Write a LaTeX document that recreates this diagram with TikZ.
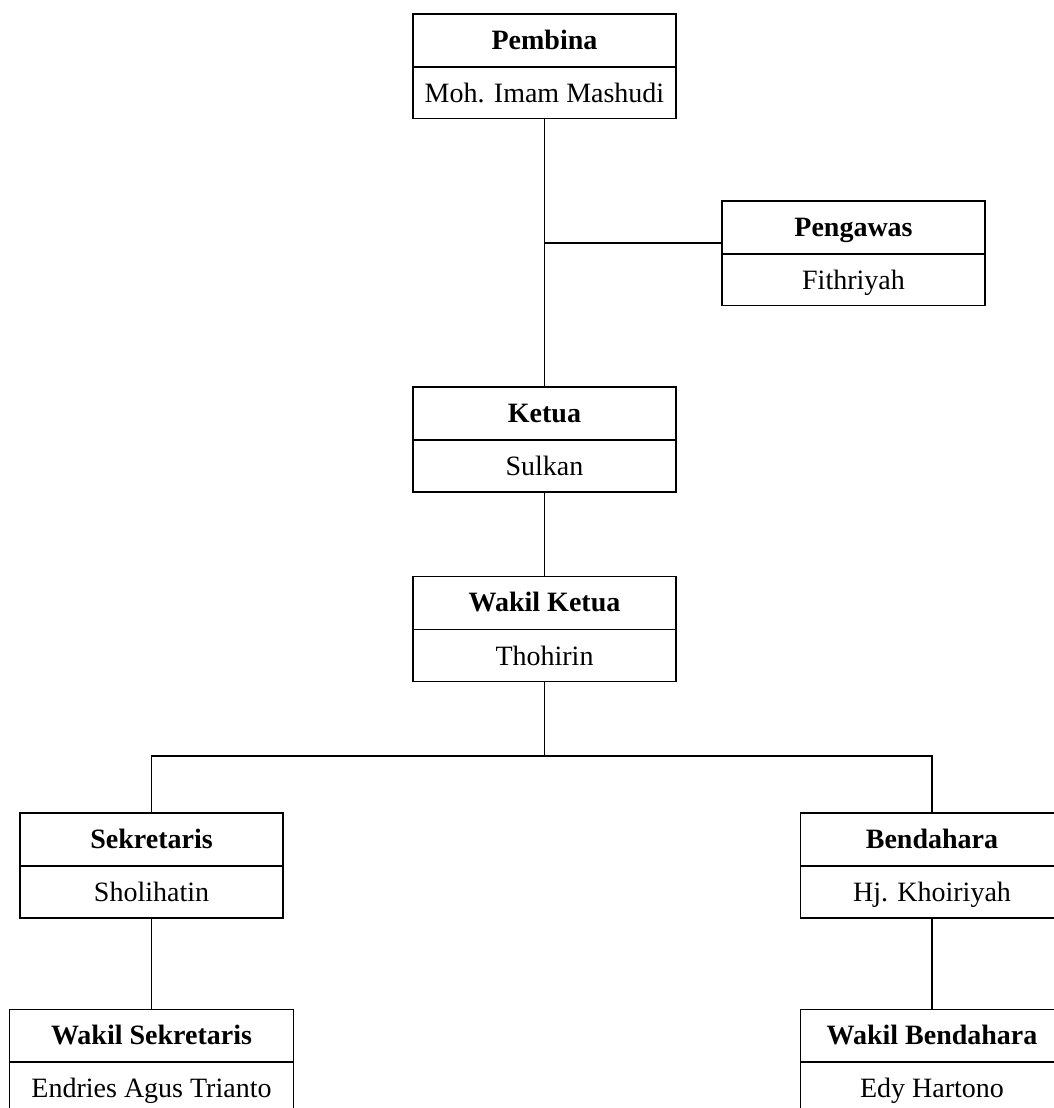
\documentclass[tikz,border=0pt]{standalone}
\usepackage{fontspec}
\setmainfont{Liberation Serif}
\tikzset{
  titlebox/.style={draw, line width=1.5pt, minimum width=263pt, minimum height=53pt, inner sep=0pt, text height=21pt, text depth=4pt, font=\fontsize{28}{34}\selectfont\bfseries},
  namebox/.style={draw, line width=1.2pt, minimum width=263pt, minimum height=52pt, inner sep=0pt, text height=22pt, text depth=3pt, font=\fontsize{28}{34}\selectfont},
  link/.style={line width=1.3pt}
}
\begin{document}
\begin{tikzpicture}[x=1pt, y=-1pt]
\clip (0,0) rectangle (1054,1108);

\node[namebox] (pembina-n) at (544.5,92.5) {Moh. Imam Mashudi};
\node[titlebox] (pembina) at (544.5,40.5) {Pembina};

\node[namebox] (pengawas-n) at (853.5,279.5) {Fithriyah};
\node[titlebox] (pengawas) at (853.5,227.5) {Pengawas};

\node[namebox] (ketua-n) at (544.5,466) {Sulkan};
\node[titlebox] (ketua) at (544.5,413.5) {Ketua};

\node[namebox] (wketua-n) at (544.5,655.5) {Thohirin};
\node[titlebox] (wketua) at (544.5,603) {Wakil Ketua};

\node[namebox] (sekretaris-n) at (151.5,892) {Sholihatin};
\node[titlebox] (sekretaris) at (151.5,839.5) {Sekretaris};

\node[namebox] (bendahara-n) at (932,892) {Hj. Khoiriyah};
\node[titlebox] (bendahara) at (932,839.5) {Bendahara};

\node[namebox, minimum width=284pt] (wsekretaris-n) at (151.5,1088) {Endries Agus Trianto};
\node[titlebox, minimum width=284pt] (wsekretaris) at (151.5,1036) {Wakil Sekretaris};

\node[namebox] (wbendahara-n) at (932,1088) {Edy Hartono};
\node[titlebox] (wbendahara) at (932,1036) {Wakil Bendahara};

\coordinate (jpeng) at (544.5,243);
\coordinate (bus) at (544.5,756);

\draw[link] (pembina-n) -- (ketua);
\draw[link] (jpeng) -- (jpeng -| pengawas.west);
\draw[link] (ketua-n) -- (wketua);
\draw[link] (wketua-n) -- (bus);
\draw[link] (sekretaris.north) |- (bus) -| (bendahara.north);
\draw[link] (sekretaris-n) -- (wsekretaris);
\draw[link] (bendahara-n) -- (wbendahara);
\end{tikzpicture}
\end{document}
